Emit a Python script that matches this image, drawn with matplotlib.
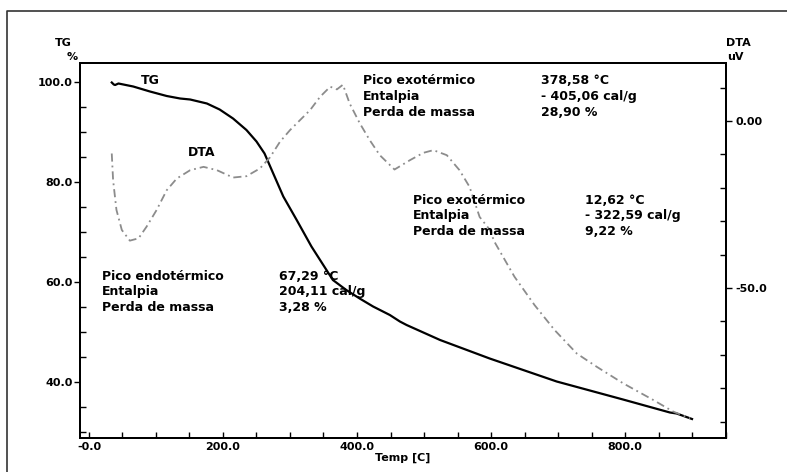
import matplotlib
matplotlib.use("Agg")
import matplotlib.pyplot as plt
from matplotlib.lines import Line2D
from matplotlib.ticker import MultipleLocator, FixedLocator

# TG curve (temperature in C, mass in %)
tg_temp = [34, 37, 39, 44, 66, 91, 116, 136, 151, 176, 195, 215, 235, 250, 262, 275,
           290, 310, 332, 364, 384, 404, 424, 449, 464, 474, 484, 524, 598, 698, 797,
           867, 877, 900]
tg_mass = [99.9, 99.5, 99.4, 99.7, 99.1, 98.1, 97.2, 96.7, 96.5, 95.7, 94.5, 92.7, 90.4,
           88.1, 85.7, 81.7, 77.1, 72.4, 67.1, 60.4, 58.4, 56.7, 55.1, 53.4, 52.1, 51.4,
           50.8, 48.4, 44.7, 40.1, 36.5, 33.9, 33.7, 32.6]

# DTA curve (temperature in C, signal in uV)
dta_temp = [34, 36, 41, 49, 61, 74, 86, 101, 116, 131, 151, 171, 191, 215, 235, 255,
            270, 285, 300, 315, 330, 345, 360, 370, 379, 389, 404, 419, 434, 456, 479,
            499, 514, 534, 553, 568, 583, 598, 605, 635, 665, 695, 728, 758, 797, 842,
            872, 897]
dta_uv = [-9.7, -17.7, -26.6, -32.6, -35.8, -35.1, -31.6, -26.6, -20.7, -17.2, -14.7,
          -13.7, -14.7, -16.9, -16.5, -14.2, -10.9, -6.2, -2.7, 0.3, 3.3, 7.3, 10.3,
          9.5, 10.9, 5.3, -0.6, -5.7, -10.2, -14.5, -11.7, -9.5, -8.7, -10.2, -14.7,
          -19.7, -28.7, -32.5, -36.1, -46.6, -55.1, -62.6, -69.6, -73.6, -78.5, -83.5,
          -87.0, -89.0]

tg_ticks = [40.0, 60.0, 80.0, 100.0]
dta_ticks = [-50.0, 0.0]
dta_tick_labels = ["-50.0", "0.00"]
temp_ticks = [0, 200, 400, 600, 800]
temp_tick_labels = ["-0.0", "200.0", "400.0", "600.0", "800.0"]

peak_labels = ["Pico exotérmico", "Entalpia", "Perda de massa"]
peak1_vals = ["378,58 °C", "- 405,06 cal/g", "28,90 %"]
peak2_vals = ["12,62 °C", "- 322,59 cal/g", "9,22 %"]
endo_labels = ["Pico endotérmico", "Entalpia", "Perda de massa"]
endo_vals = ["67,29 °C", "204,11 cal/g", "3,28 %"]

W, H = 787, 472
fig = plt.figure(figsize=(W / 100, H / 100), dpi=100)
ax = fig.add_axes([80 / W, 1 - 438 / H, (726 - 80) / W, (438 - 63) / H])
ax2 = ax.twinx()

ax.plot(tg_temp, tg_mass, color="black", lw=1.6, solid_joinstyle="round")
ax2.plot(dta_temp, dta_uv, color="#8c8c8c", lw=1.3, dashes=(4.5, 2.2, 1, 2.2))

ax.set_xlim(-13.4, 950.7)
ax.set_ylim(28.8, 103.8)
ax2.set_ylim(-94.9, 17.4)

tick_font = dict(family="DejaVu Sans", weight="bold", size=8)

ax.xaxis.set_major_locator(FixedLocator(temp_ticks))
ax.set_xticklabels(temp_tick_labels, **tick_font)
ax.xaxis.set_minor_locator(MultipleLocator(50))
ax.tick_params(axis="x", which="both", direction="in", length=4, width=1, pad=3)

ax.yaxis.set_major_locator(FixedLocator(tg_ticks))
ax.set_yticklabels(["%.1f" % v for v in tg_ticks], **tick_font)
ax.yaxis.set_minor_locator(MultipleLocator(5))
ax.tick_params(axis="y", which="major", direction="out", length=4, width=1, pad=1)
ax.tick_params(axis="y", which="minor", direction="in", length=4, width=1)

ax2.yaxis.set_major_locator(FixedLocator(dta_ticks))
ax2.set_yticklabels(dta_tick_labels, **tick_font)
ax2.yaxis.set_minor_locator(MultipleLocator(10))
ax2.tick_params(axis="y", which="major", direction="out", length=4, width=1, pad=3)
ax2.tick_params(axis="y", which="minor", direction="in", length=4, width=1)

for a in (ax, ax2):
    for s in a.spines.values():
        s.set_linewidth(1.4)

# axis titles
fig.text(63 / W, 1 - 43 / H, "TG", ha="center", va="center", **tick_font)
fig.text(72 / W, 1 - 57 / H, "%", ha="center", va="center", **tick_font)
fig.text(738 / W, 1 - 43 / H, "DTA", ha="center", va="center", **tick_font)
fig.text(735 / W, 1 - 57 / H, "uV", ha="center", va="center", **tick_font)
fig.text(403 / W, 1 - 458 / H, "Temp [C]", ha="center", va="center", **tick_font)

# curve names
ann_font = dict(family="DejaVu Sans", weight="bold", size=9)
fig.text(150 / W, 1 - 81 / H, "TG", ha="center", va="center", **ann_font)
fig.text(202 / W, 1 - 153 / H, "DTA", ha="center", va="center", **ann_font)

def text_block(x_lab, x_val, y0, labels, vals):
    for i, (lab, val) in enumerate(zip(labels, vals)):
        y = 1 - (y0 + i * 15.7) / H
        fig.text(x_lab / W, y, lab, ha="left", va="center", **ann_font)
        fig.text(x_val / W, y, val, ha="left", va="center", **ann_font)

text_block(363, 541, 81, peak_labels, peak1_vals)
text_block(413, 585, 200, peak_labels, peak2_vals)
text_block(102, 279, 276, endo_labels, endo_vals)

# outer frame (left and top edges)
fig.add_artist(Line2D([7 / W, 7 / W, 1], [0, 1 - 11 / H, 1 - 11 / H],
                      transform=fig.transFigure, color="#333333", lw=1.2))

fig.savefig("out.png", dpi=100)
